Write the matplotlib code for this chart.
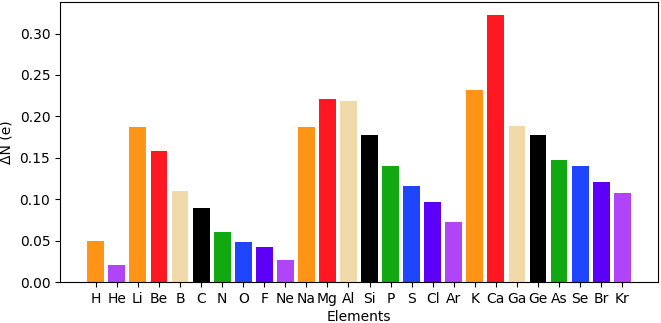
import matplotlib
matplotlib.use("Agg")
import matplotlib.pyplot as plt
import numpy as np

elements = ["H", "He", "Li", "Be", "B", "C", "N", "O", "F", "Ne", "Na", "Mg", "Al",
            "Si", "P", "S", "Cl", "Ar", "K", "Ca", "Ga", "Ge", "As", "Se", "Br", "Kr"]
delta_n = [0.050, 0.020, 0.1876, 0.158, 0.110, 0.0888, 0.0606, 0.0482, 0.042, 0.026,
           0.1876, 0.221, 0.2185, 0.177, 0.1406, 0.116, 0.0968, 0.0727, 0.2317, 0.322,
           0.1888, 0.177, 0.147, 0.1398, 0.121, 0.1076]
bar_colors = ["#ff9417", "#b044f7", "#ff9417", "#ff1721", "#f2d9a9", "#000000", "#12a812",
              "#1f45ff", "#5c00f7", "#b044f7", "#ff9417", "#ff1721", "#f2d9a9", "#000000",
              "#12a812", "#1f45ff", "#5c00f7", "#b044f7", "#ff9417", "#ff1721", "#f2d9a9",
              "#000000", "#12a812", "#1f45ff", "#5c00f7", "#b044f7"]

fig = plt.figure(figsize=(6.61, 3.23), dpi=100)
ax = fig.add_axes([60/661, 1 - 282/323, 598/661, 280/323])
x = np.arange(len(elements))
ax.bar(x, delta_n, width=0.8, color=bar_colors)
ax.set_xticks(x)
ax.set_xticklabels(elements, fontsize=10)
ax.set_xlim(-1.7, len(elements) - 1 + 1.7)
ax.set_ylim(0, max(delta_n) * 1.05)
ax.set_yticks([0.0, 0.05, 0.10, 0.15, 0.20, 0.25, 0.30])
ax.set_yticklabels(["0.00", "0.05", "0.10", "0.15", "0.20", "0.25", "0.30"], fontsize=10)
ax.set_xlabel("Elements", fontsize=10, labelpad=3)
ax.set_ylabel("ΔN (e)", fontsize=10)
fig.savefig("out.png", dpi=100)
